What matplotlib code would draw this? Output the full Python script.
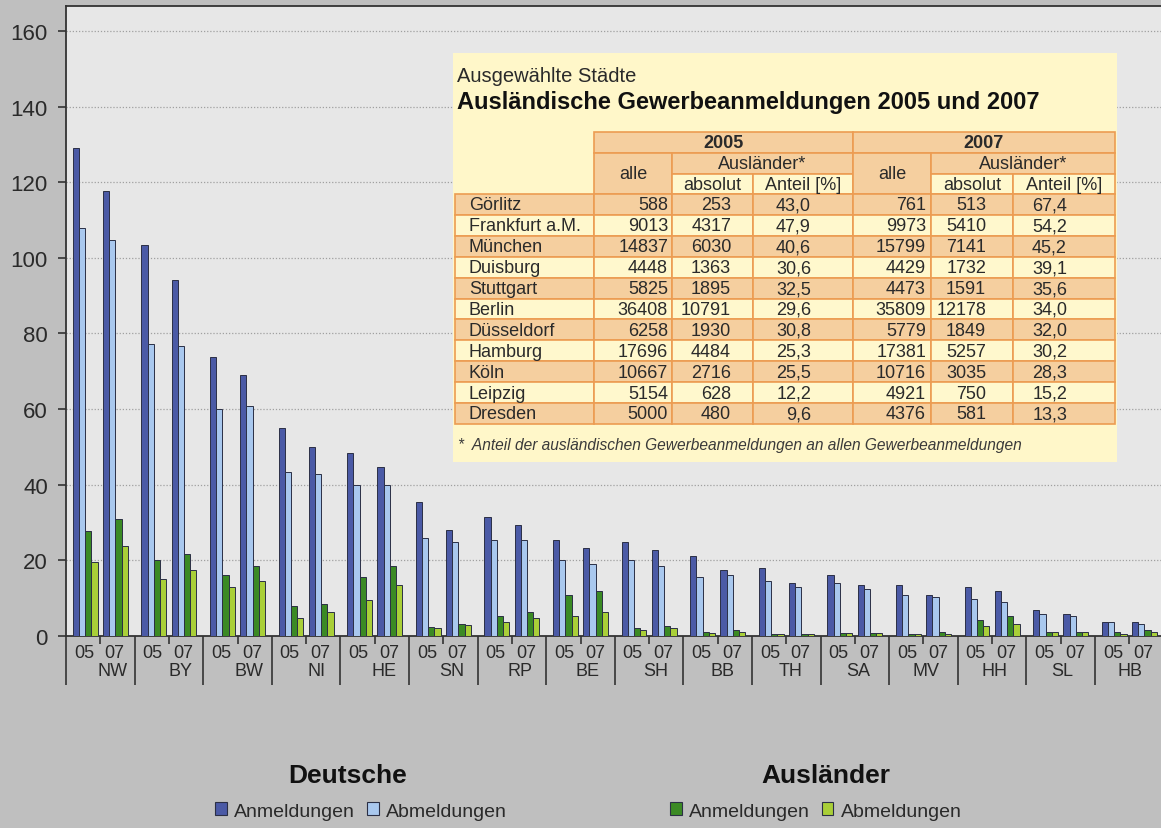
import matplotlib.pyplot as plt
from matplotlib.patches import Rectangle, Patch
import numpy as np

plt.rcParams['font.family'] = ['Liberation Sans', 'DejaVu Sans']

# Bundeslaender
states = ['NW', 'BY', 'BW', 'NI', 'HE', 'SN', 'RP', 'BE', 'SH', 'BB', 'TH', 'SA', 'MV', 'HH', 'SL', 'HB']
years = ['05', '07']

# Gewerbeanmeldungen / -abmeldungen in Tausend
de_anm_05 = [129.1, 103.4, 73.8, 54.9, 48.3, 35.4, 31.4, 25.4, 24.8, 21.1, 17.9, 16.2, 13.5, 12.9, 7.0, 3.8]
de_abm_05 = [107.9, 77.2, 59.9, 43.4, 39.8, 26.0, 25.5, 20.1, 20.1, 15.7, 14.5, 14.1, 10.8, 9.7, 5.9, 3.8]
au_anm_05 = [27.7, 20.1, 16.1, 7.9, 15.7, 2.5, 5.4, 10.8, 2.2, 1.0, 0.5, 0.9, 0.5, 4.2, 1.0, 1.0]
au_abm_05 = [19.5, 15.1, 12.9, 4.7, 9.5, 2.1, 3.8, 5.4, 1.7, 0.7, 0.4, 0.9, 0.4, 2.6, 1.0, 0.5]
de_anm_07 = [117.6, 94.2, 69.1, 50.1, 44.6, 28.0, 29.4, 23.3, 22.8, 17.4, 14.1, 13.5, 10.8, 11.8, 5.9, 3.8]
de_abm_07 = [104.6, 76.8, 60.8, 42.9, 39.8, 24.9, 25.5, 19.0, 18.4, 16.2, 12.9, 12.4, 10.2, 9.1, 5.4, 3.2]
au_anm_07 = [31.0, 21.6, 18.4, 8.5, 18.4, 3.2, 6.4, 11.8, 2.6, 1.6, 0.5, 0.9, 1.0, 5.4, 1.0, 1.6]
au_abm_07 = [23.8, 17.4, 14.5, 6.3, 13.5, 2.8, 4.8, 6.4, 2.1, 1.1, 0.4, 0.9, 0.5, 3.2, 1.0, 1.0]

# Tabelle: ausgewaehlte Staedte
cities = ['Görlitz', 'Frankfurt a.M.', 'München', 'Duisburg', 'Stuttgart', 'Berlin',
          'Düsseldorf', 'Hamburg', 'Köln', 'Leipzig', 'Dresden']
alle_05 = [588, 9013, 14837, 4448, 5825, 36408, 6258, 17696, 10667, 5154, 5000]
abs_05 = [253, 4317, 6030, 1363, 1895, 10791, 1930, 4484, 2716, 628, 480]
ant_05 = [43.0, 47.9, 40.6, 30.6, 32.5, 29.6, 30.8, 25.3, 25.5, 12.2, 9.6]
alle_07 = [761, 9973, 15799, 4429, 4473, 35809, 5779, 17381, 10716, 4921, 4376]
abs_07 = [513, 5410, 7141, 1732, 1591, 12178, 1849, 5257, 3035, 750, 581]
ant_07 = [67.4, 54.2, 45.2, 39.1, 35.6, 34.0, 32.0, 30.2, 28.3, 15.2, 13.3]

c_de_anm = '#4b5aa6'
c_de_abm = '#a9c8ee'
c_au_anm = '#3b8a24'
c_au_abm = '#a9cf38'
fig_bg = '#bfbfbf'
ax_bg = '#e7e7e7'

W, H = 1161, 829
fig = plt.figure(figsize=(W / 100, H / 100), dpi=100, facecolor=fig_bg)
ax = fig.add_axes([66 / W, 1 - 637 / H, 16 * 68.6 / W, 630 / H], facecolor=ax_bg)

x = np.arange(len(states))
bw = 0.09
series = [(de_anm_05, de_abm_05, au_anm_05, au_abm_05),
          (de_anm_07, de_abm_07, au_anm_07, au_abm_07)]
colors = [c_de_anm, c_de_abm, c_au_anm, c_au_abm]
for s, group in enumerate(series):
    for k, vals in enumerate(group):
        ax.bar(x + 0.10 + s * 0.44 + k * bw, vals, width=bw, align='edge',
               color=colors[k], edgecolor='#2b2f45', linewidth=0.7, zorder=3)

ax.set_xlim(0, 16)
ax.set_ylim(0, 166.6)
ax.set_yticks(range(0, 161, 20))
ax.yaxis.grid(True, linestyle=(0, (1, 1.5)), color='#a0a0a0', linewidth=0.9, zorder=0)
ax.tick_params(axis='y', length=6, width=1.2, color='#333333', labelsize=16,
               labelcolor='#2a2a2a', pad=7)

# x-Achse: Trennstriche zwischen Laendern, kurze Striche zwischen 05/07
ax.set_xticks(x)
ax.set_xticks(x + 0.5, minor=True)
ax.tick_params(axis='x', which='major', length=35, width=1.2, color='#333333', labelbottom=False)
ax.tick_params(axis='x', which='minor', length=6, width=1.2, color='#333333', labelbottom=False)
for sp in ['left', 'top', 'bottom']:
    ax.spines[sp].set_color('#333333')
    ax.spines[sp].set_linewidth(1.3)
ax.spines['right'].set_visible(False)

tr = ax.get_xaxis_transform()
for i, st in enumerate(states):
    ax.text(i + 0.26, -16 / 630, years[0], transform=tr, ha='center', va='center',
            fontsize=13, color='#2a2a2a', clip_on=False)
    ax.text(i + 0.71, -16 / 630, years[1], transform=tr, ha='center', va='center',
            fontsize=13, color='#2a2a2a', clip_on=False)
    ax.text(0.685 + 0.988 * i, -35 / 630, st, transform=tr, ha='center', va='center',
            fontsize=13, color='#2a2a2a', clip_on=False)

# Tabelle als Einschub (Koordinaten in Pixeln)
tb = fig.add_axes([453 / W, 1 - 463 / H, 664 / W, 409 / H], facecolor='#fff7c9')
tb.set_xlim(453, 1117)
tb.set_ylim(463, 54)
tb.set_xticks([])
tb.set_yticks([])
for sp in tb.spines.values():
    sp.set_visible(False)

orange = '#f5cf9f'
pale = '#fff8cd'
line = '#ec9c52'
cols = [455, 594, 672, 753, 853, 931, 1013, 1115]
hrow = [133, 154, 175, 195]
rh = 20.9


def cell(x0, x1, y0, y1, fc, text='', ha='center', pad=0, **kw):
    tb.add_patch(Rectangle((x0, y0), x1 - x0, y1 - y0, facecolor=fc,
                           edgecolor=line, linewidth=1.2))
    if text:
        if ha == 'right':
            tx = x1 - pad
        elif ha == 'left':
            tx = x0 + pad
        else:
            tx = (x0 + x1) / 2
        tb.text(tx, (y0 + y1) / 2 + 0.5, text, ha=ha, va='center', color='#2a2a2a', **kw)


tb.text(457, 77, 'Ausgewählte Städte', fontsize=14.5, va='center', color='#2a2a2a')
tb.text(457, 102, 'Ausländische Gewerbeanmeldungen 2005 und 2007', fontsize=17,
        fontweight='bold', va='center', color='#111111')

fs = 13
for j, yr in enumerate(['2005', '2007']):
    c0 = 1 + 3 * j
    cell(cols[c0], cols[c0 + 3], hrow[0], hrow[1], orange, yr, fontsize=fs, fontweight='bold')
    cell(cols[c0], cols[c0 + 1], hrow[1], hrow[3], orange, 'alle', fontsize=fs)
    cell(cols[c0 + 1], cols[c0 + 3], hrow[1], hrow[2], orange, 'Ausländer*', fontsize=fs)
    cell(cols[c0 + 1], cols[c0 + 2], hrow[2], hrow[3], pale, 'absolut', fontsize=fs)
    cell(cols[c0 + 2], cols[c0 + 3], hrow[2], hrow[3], pale, 'Anteil [%]', fontsize=fs)

for r, city in enumerate(cities):
    y0 = hrow[3] + r * rh
    y1 = y0 + rh
    fc = orange if r % 2 == 0 else pale
    vals = [str(alle_05[r]), str(abs_05[r]), f'{ant_05[r]:.1f}'.replace('.', ','),
            str(alle_07[r]), str(abs_07[r]), f'{ant_07[r]:.1f}'.replace('.', ',')]
    pads = [4, 22, 42, 5, 27, 48]
    cell(cols[0], cols[1], y0, y1, fc, city, ha='left', pad=14, fontsize=fs)
    for c in range(6):
        cell(cols[c + 1], cols[c + 2], y0, y1, fc, vals[c], ha='right', pad=pads[c], fontsize=fs)

tb.text(458, 446, '*  Anteil der ausländischen Gewerbeanmeldungen an allen Gewerbeanmeldungen',
        fontsize=11.2, style='italic', va='center', color='#3a3a3a')

# Legenden
h_de = [Patch(facecolor=c_de_anm, edgecolor='#2b2f45', linewidth=0.8),
        Patch(facecolor=c_de_abm, edgecolor='#2b2f45', linewidth=0.8)]
h_au = [Patch(facecolor=c_au_anm, edgecolor='#2b2f45', linewidth=0.8),
        Patch(facecolor=c_au_abm, edgecolor='#2b2f45', linewidth=0.8)]
for handles, title, xt, xl in [(h_de, 'Deutsche', 348, 361), (h_au, 'Ausländer', 826, 816)]:
    fig.text(xt / W, 1 - 776 / H, title, fontsize=19, fontweight='bold',
             ha='center', va='center', color='#111111')
    fig.legend(handles, ['Anmeldungen', 'Abmeldungen'], ncol=2, loc='center',
               bbox_to_anchor=(xl / W, 1 - 812 / H), frameon=False, fontsize=14,
               handlelength=0.6, handleheight=0.6, handletextpad=0.4,
               columnspacing=0.6, labelcolor='#2a2a2a', borderpad=0)

fig.savefig('out.png', dpi=100, facecolor=fig_bg)
